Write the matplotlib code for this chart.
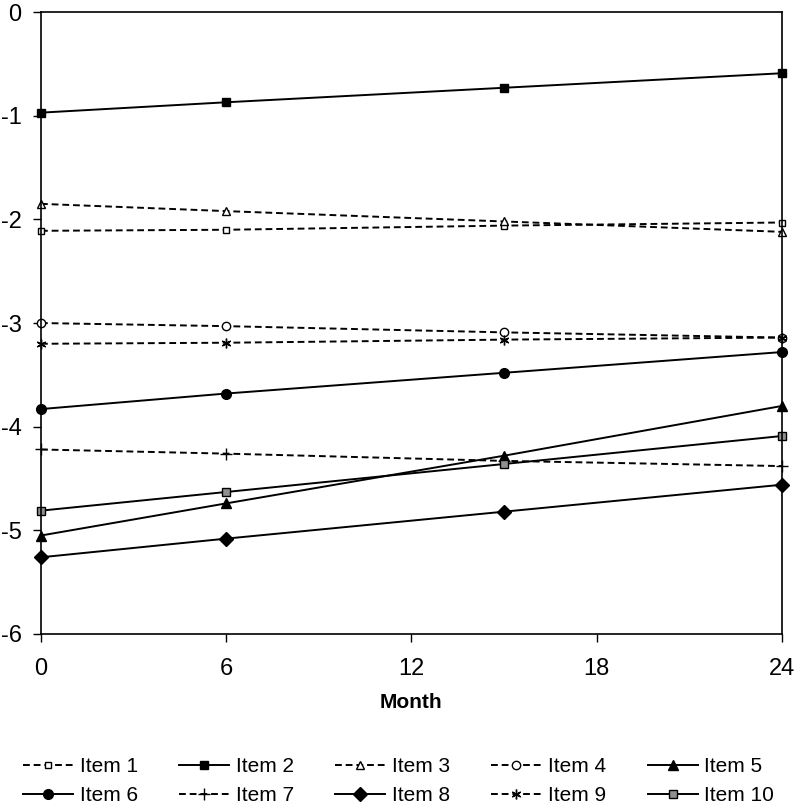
import matplotlib.pyplot as plt

plt.rcParams['font.family'] = ['Liberation Sans', 'DejaVu Sans']
plt.rcParams['axes.unicode_minus'] = False

months = [0, 6, 15, 24]
item1 = [-2.11, -2.10, -2.06, -2.03]
item2 = [-0.97, -0.87, -0.73, -0.59]
item3 = [-1.85, -1.92, -2.02, -2.12]
item4 = [-3.00, -3.03, -3.09, -3.14]
item5 = [-5.05, -4.74, -4.28, -3.80]
item6 = [-3.83, -3.68, -3.48, -3.28]
item7 = [-4.22, -4.26, -4.33, -4.38]
item8 = [-5.26, -5.08, -4.82, -4.56]
item9 = [-3.20, -3.19, -3.16, -3.14]
item10 = [-4.81, -4.63, -4.36, -4.09]

labels = ["Item 1", "Item 2", "Item 3", "Item 4", "Item 5",
          "Item 6", "Item 7", "Item 8", "Item 9", "Item 10"]
series = [item1, item2, item3, item4, item5, item6, item7, item8, item9, item10]

dash = (0, (3.5, 2))
styles = [
    dict(ls=dash, marker='s', mfc='white', ms=5),
    dict(ls='-', marker='s', mfc='black', ms=6),
    dict(ls=dash, marker='^', mfc='white', ms=6),
    dict(ls=dash, marker='o', mfc='white', ms=6),
    dict(ls='-', marker='^', mfc='black', ms=7),
    dict(ls='-', marker='o', mfc='black', ms=7),
    dict(ls=dash, marker='+', mfc='black', ms=8),
    dict(ls='-', marker='D', mfc='black', ms=7),
    dict(ls=dash, marker=(6, 2, 0), mfc='black', ms=7),
    dict(ls='-', marker='s', mfc='#909090', ms=6),
]

fig = plt.figure(figsize=(7.97, 8.07), dpi=100)
ax = fig.add_axes([0.0514, 0.2144, 0.9296, 0.7706])

lines = []
for vals, lab, st in zip(series, labels, styles):
    ln, = ax.plot(months, vals, color='black', lw=1.4, mec='black', mew=1.0,
                  label=lab, clip_on=False, **st)
    lines.append(ln)

ax.set_xlim(0, 24)
ax.set_ylim(-6, 0)
ax.set_xticks([0, 6, 12, 18, 24])
ax.set_yticks(range(-6, 1))
ax.tick_params(direction='out', length=6, width=1, labelsize=17, pad=8)
ax.tick_params(axis='x', pad=11)
for s in ax.spines.values():
    s.set_linewidth(1.2)
ax.set_xlabel("Month", fontsize=15, fontweight='bold', labelpad=10)

# legend filled row by row: 1-5 on top, 6-10 below
order = [0, 5, 1, 6, 2, 7, 3, 8, 4, 9]
fig.legend([lines[i] for i in order], [labels[i] for i in order],
           loc='center', bbox_to_anchor=(0.5, 0.032), ncol=5, frameon=False,
           fontsize=15, handlelength=2.4, columnspacing=2.0, handletextpad=0.3,
           labelspacing=0.45)

fig.savefig("out.png", dpi=100)
